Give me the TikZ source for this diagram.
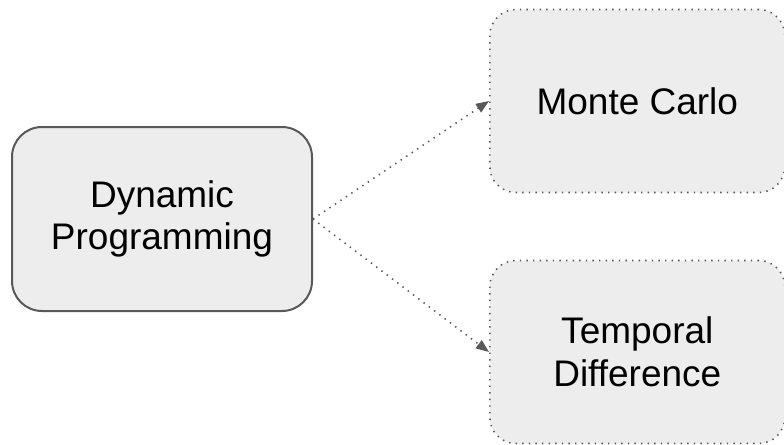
\documentclass[tikz,border=0pt]{standalone}
\usepackage{fontspec}
\setmainfont{Liberation Sans}
\usetikzlibrary{arrows.meta, positioning}

\begin{document}
\begin{tikzpicture}[
    x=0.5pt, y=-0.5pt,
    method/.style={rectangle, rounded corners=15pt, draw=black!65, fill=black!7, line width=1pt, minimum width=150pt, minimum height=92pt, align=center},
    dotbox/.style={method, line width=0.8pt, dash pattern=on 0.7pt off 2.6pt, minimum width=147.5pt, minimum height=91.5pt, rounded corners=13pt},
    arrow/.style={-{Triangle[length=6.5pt,width=5pt]}, draw=black!65, line width=0.8pt, dash pattern=on 0.7pt off 2.6pt},
    font=\fontsize{18.5}{21.3}\selectfont
]
\useasboundingbox (0,0) rectangle (784,445);

% Start
\node[method] (dp) at (162,219) {Dynamic\\Programming};

% Methods
\node[dotbox, right=88pt of dp, yshift=59pt] (mc) {Monte Carlo};
\node[dotbox, right=88pt of dp, yshift=-66.5pt] (td) {Temporal\\Difference};

% Arrows
\draw[arrow] (dp.east) -- (mc.west);
\draw[arrow] (dp.east) -- (td.west);

\end{tikzpicture}
\end{document}
